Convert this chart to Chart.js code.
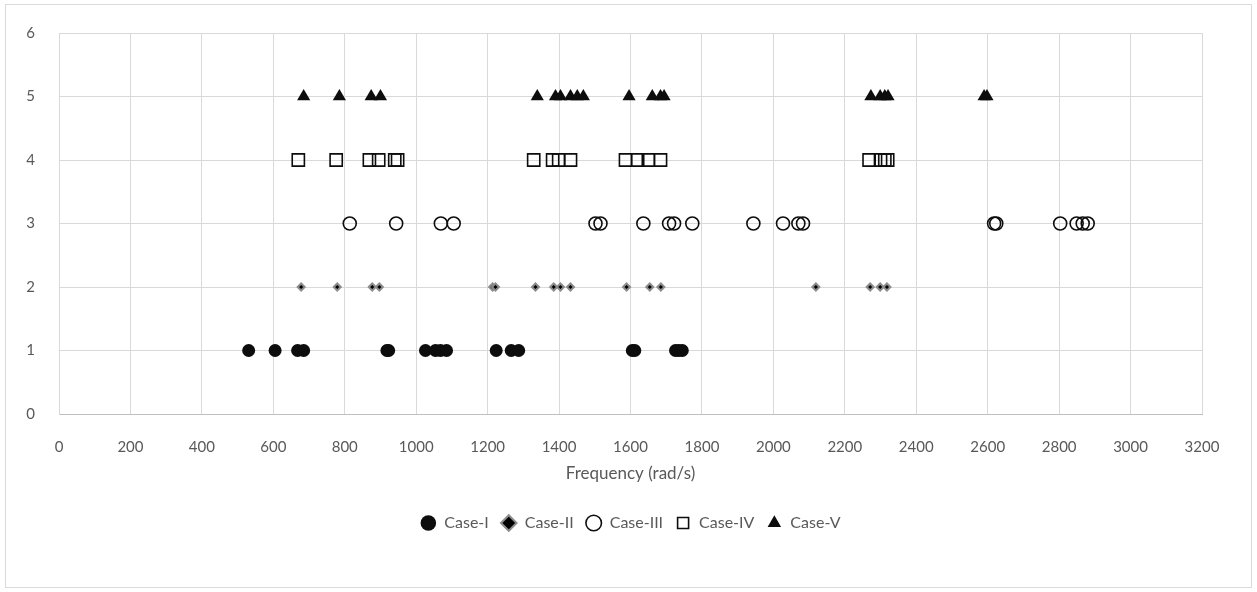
<!DOCTYPE html>
<html>
<head>
<meta charset="utf-8">
<script src="https://cdn.jsdelivr.net/npm/chart.js@4/dist/chart.umd.min.js"></script>
<style>
  html, body { margin: 0; padding: 0; background: #ffffff; }
  #wrap { width: 1257px; height: 592px; position: relative; }
</style>
</head>
<body>
<div id="wrap"><canvas id="c" width="1257" height="592"></canvas></div>
<script>
// Natural frequencies (rad/s) found for each case
const caseI   = [531, 605, 668, 685, 918, 923, 1026, 1054, 1068, 1085, 1224, 1266, 1287, 1605, 1612, 1726, 1735, 1745];
const caseII  = [678, 779, 877, 897, 1214, 1222, 1334, 1385, 1404, 1432, 1589, 1654, 1685, 2119, 2271, 2299, 2318];
const caseIII = [814, 944, 1069, 1105, 1502, 1516, 1636, 1708, 1722, 1773, 1944, 2027, 2070, 2083, 2618, 2624, 2803, 2849, 2866, 2880];
const caseIV  = [670, 776, 869, 895, 940, 948, 1329, 1382, 1399, 1432, 1586, 1620, 1650, 1684, 2268, 2300, 2312, 2320];
const caseV   = [685, 785, 874, 900, 1339, 1390, 1404, 1432, 1451, 1468, 1596, 1661, 1684, 1694, 2273, 2299, 2312, 2321, 2590, 2598];

const caseNames = ['Case-I', 'Case-II', 'Case-III', 'Case-IV', 'Case-V'];
const caseLevels = [1, 2, 3, 4, 5];

const xTicks = [0, 200, 400, 600, 800, 1000, 1200, 1400, 1600, 1800, 2000, 2200, 2400, 2600, 2800, 3000, 3200];
const yTicks = [0, 1, 2, 3, 4, 5, 6];

const toPoints = (freqs, level) => freqs.map(f => ({ x: f, y: level }));

const FONT = 'Lato, "Open Sans", "Liberation Sans", sans-serif';
const GREY_TEXT = '#595959';
const GRID = '#d9d9d9';

// thin frame around the whole chart
const framePlugin = {
  id: 'frame',
  beforeDraw(chart) {
    const ctx = chart.ctx;
    ctx.save();
    ctx.fillStyle = '#ffffff';
    ctx.fillRect(0, 0, chart.width, chart.height);
    ctx.strokeStyle = '#d9d9d9';
    ctx.lineWidth = 1;
    ctx.strokeRect(5.5, 4.5, chart.width - 11, chart.height - 9);
    ctx.restore();
  }
};

new Chart(document.getElementById('c'), {
  type: 'scatter',
  data: {
    datasets: [
      {
        label: caseNames[0],
        data: toPoints(caseI, caseLevels[0]),
        pointStyle: 'circle',
        pointRadius: 6.5,
        backgroundColor: '#0d0d0d',
        borderColor: '#0d0d0d',
        borderWidth: 0
      },
      {
        label: caseNames[1],
        data: toPoints(caseII, caseLevels[1]),
        pointStyle: 'rectRot',
        pointRadius: 3.5,
        backgroundColor: '#000000',
        borderColor: '#8c8c8c',
        borderWidth: 2
      },
      {
        label: caseNames[2],
        data: toPoints(caseIII, caseLevels[2]),
        pointStyle: 'circle',
        pointRadius: 6.5,
        backgroundColor: 'rgba(255,255,255,0)',
        borderColor: '#0d0d0d',
        borderWidth: 1.6
      },
      {
        label: caseNames[3],
        data: toPoints(caseIV, caseLevels[3]),
        pointStyle: 'rect',
        pointRadius: 8.6,
        backgroundColor: 'rgba(255,255,255,0)',
        borderColor: '#0d0d0d',
        borderWidth: 1.6
      },
      {
        label: caseNames[4],
        data: toPoints(caseV, caseLevels[4]),
        pointStyle: 'triangle',
        pointRadius: 7.6,
        backgroundColor: '#0d0d0d',
        borderColor: '#0d0d0d',
        borderWidth: 0
      }
    ]
  },
  options: {
    responsive: false,
    animation: false,
    layout: { padding: { left: 0, right: 55, top: 33, bottom: 51 } },
    scales: {
      x: {
        type: 'linear',
        min: 0,
        max: 3200,
        afterBuildTicks(scale) { scale.ticks = xTicks.map(v => ({ value: v })); },
        afterFit(scale) { scale.height = 89; },
        grid: { color: GRID, lineWidth: 1, drawTicks: false },
        border: { color: '#bfbfbf', width: 1 },
        ticks: {
          color: GREY_TEXT,
          font: { family: FONT, size: 15 },
          padding: 24,
          maxRotation: 0,
          autoSkip: false,
          callback: v => String(v)
        },
        title: {
          display: true,
          text: 'Frequency (rad/s)',
          color: GREY_TEXT,
          font: { family: FONT, size: 17 },
          padding: { top: 6, bottom: 19 }
        }
      },
      y: {
        type: 'linear',
        min: 0,
        max: 6,
        afterBuildTicks(scale) { scale.ticks = yTicks.map(v => ({ value: v })); },
        afterFit(scale) { scale.width = 59; },
        grid: { color: GRID, lineWidth: 1, drawTicks: false },
        border: { color: GRID, width: 1 },
        ticks: {
          color: GREY_TEXT,
          font: { family: FONT, size: 15 },
          padding: 24,
          callback: v => String(v)
        }
      }
    },
    plugins: {
      legend: {
        position: 'bottom',
        fullSize: false,
        labels: {
          usePointStyle: true,
          boxHeight: 11,
          color: GREY_TEXT,
          font: { family: FONT, size: 16 },
          padding: 12
        }
      },
      tooltip: { enabled: false }
    }
  },
  plugins: [framePlugin]
});
</script>
</body>
</html>
